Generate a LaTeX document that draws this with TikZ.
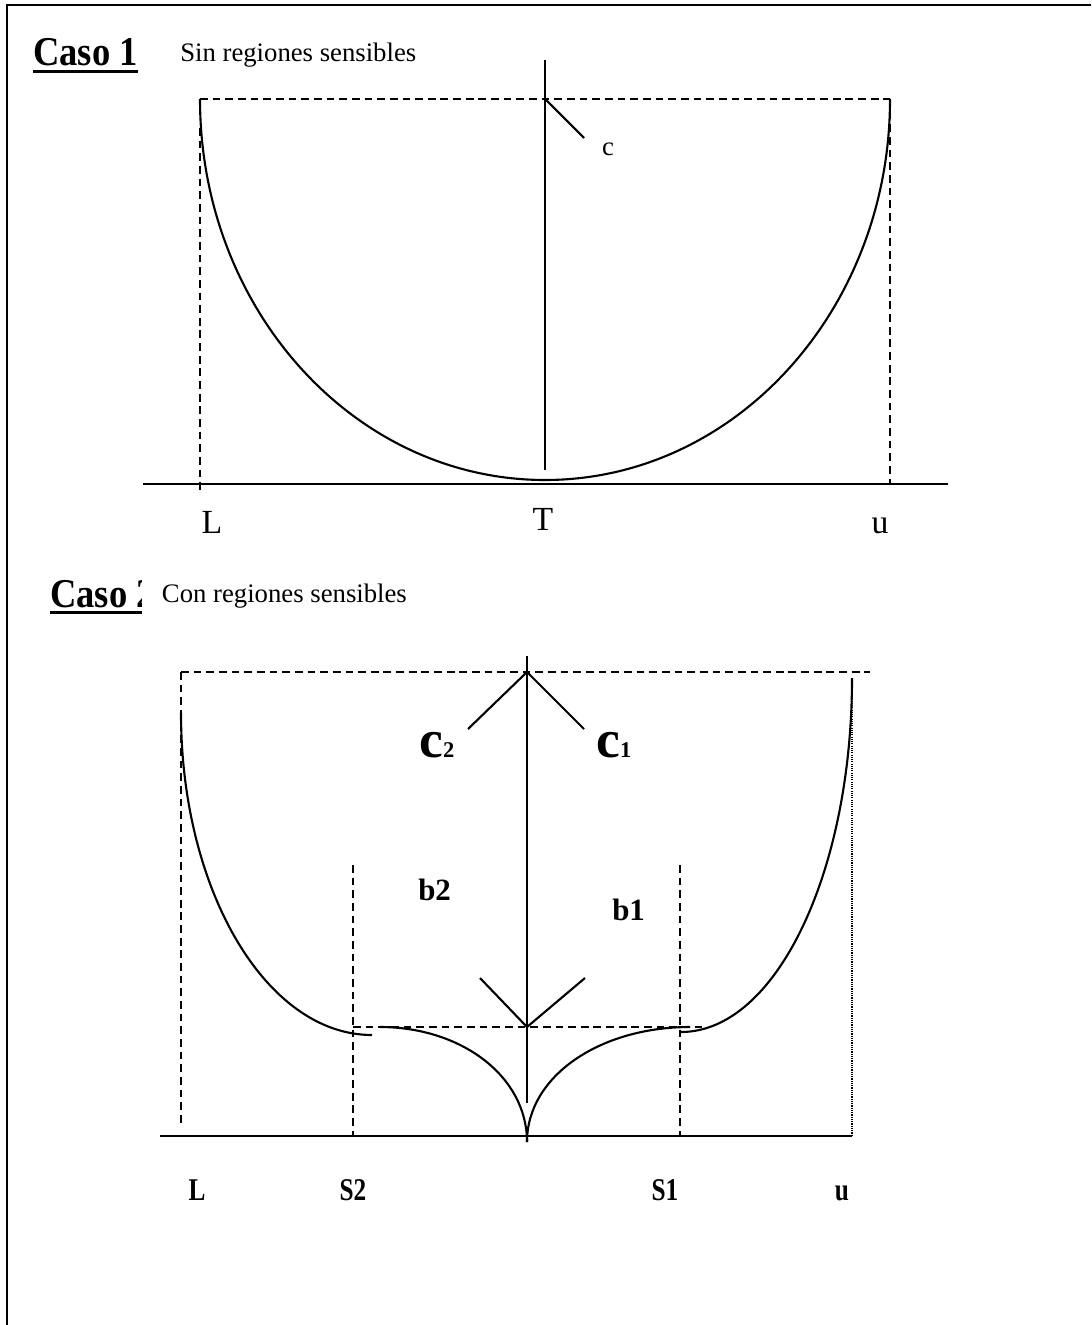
\documentclass[tikz,border=0pt]{standalone}
\usepackage{fontspec}
\setmainfont{Liberation Serif}

\begin{document}
\begin{tikzpicture}[x=0.025cm, y=-0.025cm,
        curva/.style={black, line width=1.5pt},
        guia/.style={black, line width=1.1pt, dash pattern=on 5.5pt off 3.5pt},
        punteada/.style={black, line width=0.8pt, dash pattern=on 0.8pt off 0.8pt},
        eje/.style={black, line width=1.7pt},
        caso/.style={inner sep=0pt, anchor=base west, font=\bfseries\fontsize{26}{30}\selectfont},
        texto/.style={inner sep=0pt, anchor=base west, font=\fontsize{19}{22}\selectfont},
        lbl/.style={inner sep=0pt, anchor=base, font=\fontsize{24}{28}\selectfont},
        blbl/.style={inner sep=0pt, anchor=base west, font=\bfseries\fontsize{22}{26}\selectfont},
        eje lbl/.style={inner sep=0pt, anchor=base, font=\bfseries\fontsize{18}{22}\selectfont}]
        \useasboundingbox (0,0) rectangle (1091,1325);
        % Frame, cut on the right and at the bottom.
            \draw[line width=1.4pt] (7,1325) -- (7,5) -- (1091,5);
        % Caso 1: sin regiones sensibles.
            \node[caso] (caso1) at (33,66) {\scalebox{1}[1.12]{Caso 1}};
            \draw[line width=2.2pt] ([yshift=-4pt]caso1.base west) -- ([yshift=-4pt]caso1.base east);
            \node[texto] (sin) at (180,62) {Sin regiones sensibles};
            \draw[guia] (200,99) -- (890,99);
            \draw[guia] (200,128) -- (200,492);
            \draw[guia] (890,99) -- (890,484);
            \draw[eje] (143,484) -- (948,484);
            \draw[curva] (200,99) .. controls (200,309) and (354,480) .. (545,480)
                .. controls (736,480) and (890,309) .. (890,99);
            \draw[curva] (545,60) -- (545,470);
            \draw[curva] (545,99) -- (584,138);
        % Below nodes are the labels of case 1.
            \node[texto, anchor=base] (c) at (608,156) {c};
            \node[lbl] (L1) at (212,533) {L};
            \node[lbl] (T1) at (543,530) {T};
            \node[lbl] (u1) at (880,533) {u};
        % Caso 2: con regiones sensibles.
            \node[caso] (caso2) at (50,607) {\scalebox{1}[1.12]{Caso 2}};
            \draw[line width=2.2pt] ([yshift=-4pt]caso2.base west) -- ([yshift=-4pt]caso2.base east);
            \node[texto, fill=white, inner xsep=14pt, inner ysep=5pt] (con) at (142,602) {Con regiones sensibles};
            \draw[guia] (181,672) -- (870,672);
            \draw[guia] (181,672) -- (181,1127);
            \draw[punteada] (852,678) -- (852,1136);
            \draw[eje] (160,1136) -- (852,1136);
            \draw[guia] (353,865) -- (353,1136);
            \draw[guia] (680,865) -- (680,1136);
            \draw[guia] (353,1027) -- (702,1027);
            \draw[curva] (527,656) -- (527,1103);
            \draw[curva] (468,729) -- (527,672) -- (584,729);
            \draw[curva] (480,978) -- (527,1027) -- (585,978);
            \draw[curva] (181,713) .. controls (181,890) and (266,1035) .. (372,1035);
            \draw[curva] (380,1027) .. controls (461,1027) and (527,1076) .. (527,1142);
            \draw[curva] (527,1142) .. controls (527,1076) and (600,1027) .. (690,1027);
            \draw[curva] (681,1032) .. controls (776,1032) and (852,872) .. (852,678);
        % Labels of case 2.
            \node[inner sep=0pt, anchor=base west, font=\bfseries\fontsize{38}{42}\selectfont] (c2) at (419,757) {c{\fontsize{16}{18}\selectfont 2}};
            \node[inner sep=0pt, anchor=base west, font=\bfseries\fontsize{38}{42}\selectfont] (c1) at (596,757) {c{\fontsize{16}{18}\selectfont 1}};
            \node[blbl] (b2) at (418,900) {b2};
            \node[blbl] (b1) at (612,920) {b1};
            \node[eje lbl] (L2) at (197,1200) {\scalebox{1}[1.25]{L}};
            \node[eje lbl] (S2) at (353,1200) {\scalebox{1}[1.25]{S2}};
            \node[eje lbl] (S1) at (665,1200) {\scalebox{1}[1.25]{S1}};
            \node[eje lbl] (u2) at (842,1200) {\scalebox{1}[1.25]{u}};
    \end{tikzpicture}
\end{document}
